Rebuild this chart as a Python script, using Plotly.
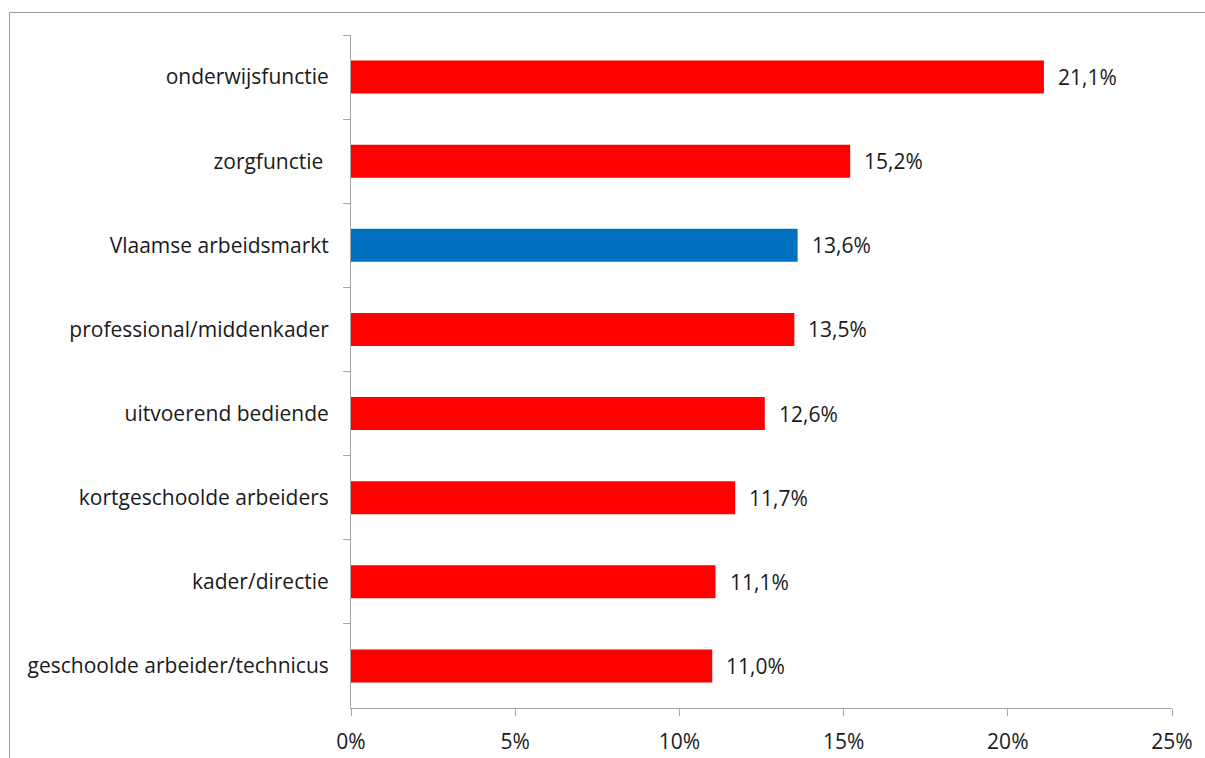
import plotly.graph_objects as go

# Share of employees per function group (percent)
categories = [
    "onderwijsfunctie",
    "zorgfunctie\u00a0",
    "Vlaamse arbeidsmarkt",
    "professional/middenkader",
    "uitvoerend bediende",
    "kortgeschoolde arbeiders",
    "kader/directie",
    "geschoolde arbeider/technicus",
]
values = [21.1, 15.2, 13.6, 13.5, 12.6, 11.7, 11.1, 11.0]
highlight = "Vlaamse arbeidsmarkt"

RED = "#FF0000"
BLUE = "#0070C0"
AXIS = "#A6A6A6"
TEXT = "#1A1A1A"
FONT = "Open Sans"
SIZE = 21

colors = [BLUE if c == highlight else RED for c in categories]

fig = go.Figure(
    go.Bar(
        x=values,
        y=categories,
        orientation="h",
        marker=dict(color=colors, line=dict(width=0)),
        hoverinfo="skip",
    )
)

# value labels to the right of each bar, with a decimal comma
for c, v in zip(categories, values):
    fig.add_annotation(
        x=v, y=c, xref="x", yref="y",
        text=f"{v:.1f}".replace(".", ",") + "%",
        showarrow=False, xanchor="left", xshift=12,
        font=dict(family=FONT, size=SIZE, color=TEXT),
    )

# thin frame around the chart area
fig.add_shape(
    type="rect", xref="paper", yref="paper",
    x0=(9.5 - 351) / 821, x1=1.06, y0=-0.1, y1=(708 - 12.5) / 673,
    line=dict(color="#999999", width=1), fillcolor="rgba(0,0,0,0)",
    layer="below",
)

fig.update_layout(
    width=1205, height=758,
    margin=dict(l=351, r=33, t=35, b=50, autoexpand=False),
    paper_bgcolor="white", plot_bgcolor="white",
    bargap=0.608,
    showlegend=False,
    font=dict(family=FONT, size=SIZE, color=TEXT),
    xaxis=dict(
        range=[0, 25], dtick=5, ticksuffix="%",
        showgrid=False, zeroline=False,
        showline=True, linecolor=AXIS, linewidth=1,
        ticks="outside", ticklen=7, tickcolor=AXIS, tickwidth=1,
        ticklabelstandoff=8, automargin=False,
        tickfont=dict(family=FONT, size=SIZE, color=TEXT),
        fixedrange=True,
    ),
    yaxis=dict(
        autorange="reversed",
        showgrid=False, zeroline=False,
        showline=True, linecolor=AXIS, linewidth=1,
        ticks="outside", ticklen=7, tickcolor=AXIS, tickwidth=1,
        tickson="boundaries", ticklabelstandoff=17, automargin=False,
        tickfont=dict(family=FONT, size=SIZE, color=TEXT),
        fixedrange=True,
    ),
)

fig.write_html("out.html", config={"displayModeBar": False})
